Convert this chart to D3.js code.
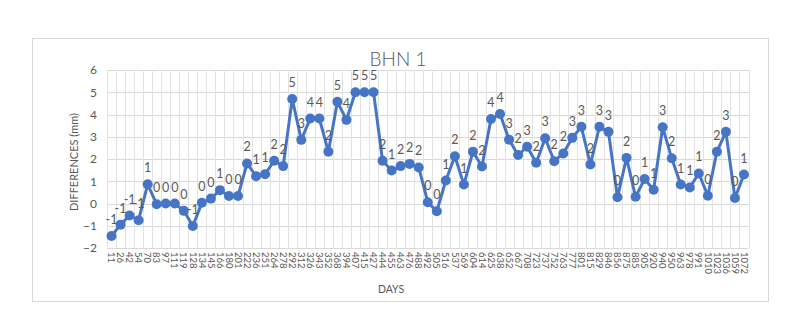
<!DOCTYPE html>
<html><head><meta charset="utf-8">
<script src="https://cdn.jsdelivr.net/npm/d3@7"></script>
<style>
html,body{margin:0;padding:0;background:#fff;}
svg text{font-family:Lato,"Liberation Sans",sans-serif;fill:#595959;}
</style></head>
<body><div id="chart"></div>
<script>
const days = [11,26,42,54,70,83,97,111,119,128,134,145,166,180,201,222,236,251,264,278,292,312,326,343,352,368,394,407,415,427,444,455,463,476,488,492,505,516,537,569,604,614,625,638,652,667,708,723,737,752,763,777,801,815,829,846,856,875,885,905,920,940,950,963,978,991,1010,1023,1036,1059,1072];
const differences = [-1.46,-0.95,-0.54,-0.75,0.86,-0.03,0,0,-0.33,-1.01,0.03,0.22,0.6,0.34,0.34,1.8,1.23,1.32,1.92,1.68,4.7,2.86,3.82,3.82,2.33,4.57,3.76,5,5,5,1.92,1.48,1.68,1.78,1.62,0.06,-0.35,1.03,2.12,0.85,2.33,1.66,3.8,4.02,2.87,2.18,2.55,1.83,2.93,1.9,2.25,2.95,3.45,1.75,3.45,3.22,0.28,2.05,0.3,1.1,0.62,3.43,2.03,0.85,0.72,1.35,0.35,2.33,3.22,0.25,1.3];
const yTicks = [-2,-1,0,1,2,3,4,5,6];

(function(){
const W = 791, H = 336;
const svg = d3.select("#chart").append("svg").attr("width", W).attr("height", H);
svg.append("rect").attr("x",32.5).attr("y",38.5).attr("width",736).attr("height",263)
  .attr("fill","#fff").attr("stroke","#d9d9d9");

const pL = 107, pR = 748.5, pT = 70, pB = 248;
const x = d3.scaleBand().domain(d3.range(days.length)).range([pL, pR]);
const y = d3.scaleLinear().domain([-2, 6]).range([pB, pT]);

const g = svg.append("g");
g.selectAll("line.h").data(yTicks).enter().append("line")
  .attr("x1", pL).attr("x2", pR).attr("y1", d => Math.round(y(d))+0.5).attr("y2", d => Math.round(y(d))+0.5)
  .attr("stroke", "#d9d9d9");
const bounds = d3.range(days.length + 1).map(i => pL + i * x.step());
g.selectAll("line.v").data(bounds).enter().append("line")
  .attr("x1", d => Math.round(d)+0.5).attr("x2", d => Math.round(d)+0.5).attr("y1", pT).attr("y2", pB)
  .attr("stroke", "#e3e3e3");

const yAxis = d3.axisLeft(y).tickValues(yTicks).tickSize(0).tickPadding(10).tickFormat(d3.format("d"));
const ya = svg.append("g").attr("transform", `translate(${pL},0)`).call(yAxis);
ya.select(".domain").remove();
ya.selectAll("text").style("font-size","12px").attr("fill","#595959");

const xAxis = d3.axisBottom(x).tickSize(0).tickFormat(i => days[i]);
const xa = svg.append("g").attr("transform", `translate(0,${pB})`).call(xAxis);
xa.select(".domain").remove();
xa.selectAll("text").style("font-size","9.5px").attr("fill","#595959")
  .attr("text-anchor","start").attr("dy","0.35em")
  .attr("transform","translate(0,4) rotate(90)").attr("x",0).attr("y",0);

const line = d3.line().x((d,i) => x(i) + x.bandwidth()/2).y(d => y(d));
svg.append("path").datum(differences).attr("d", line)
  .attr("fill","none").attr("stroke","#4775C6").attr("stroke-width",3).attr("stroke-linejoin","round");
svg.selectAll("circle.pt").data(differences).enter().append("circle")
  .attr("cx",(d,i) => x(i) + x.bandwidth()/2).attr("cy", d => y(d)).attr("r",5)
  .attr("fill","#4775C6");

svg.selectAll("text.lbl").data(differences).enter().append("text")
  .attr("x",(d,i) => x(i) + x.bandwidth()/2).attr("y", d => y(d) - 12)
  .attr("text-anchor","middle").style("font-size","12.5px")
  .text(d => String(Math.round(d) + 0));

svg.append("text").attr("x",398).attr("y",66).attr("text-anchor","middle")
  .style("font-size","19px").style("font-weight","300").text("BHN 1");
svg.append("text").attr("transform","translate(78,162) rotate(-90)").attr("text-anchor","middle")
  .style("font-size","11px").text("DIFFERENCES (mm)");
svg.append("text").attr("x",391).attr("y",293).attr("text-anchor","middle")
  .style("font-size","10.5px").text("DAYS");
})();
</script></body></html>
